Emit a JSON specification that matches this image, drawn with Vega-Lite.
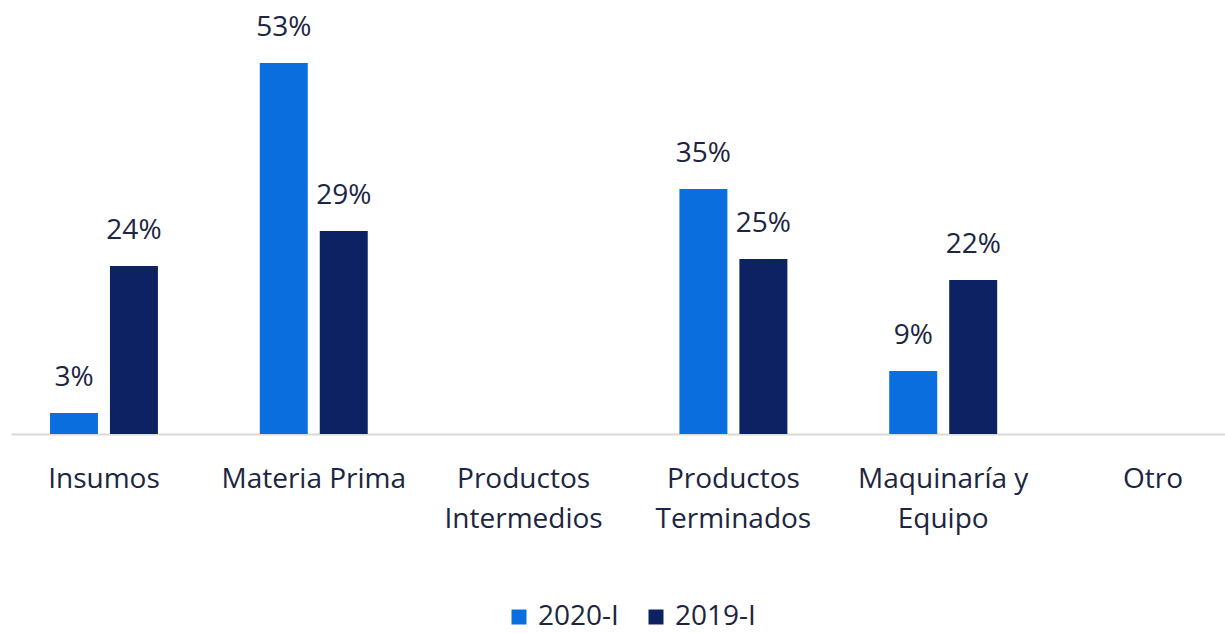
{
  "$schema": "https://vega.github.io/schema/vega-lite/v6.json",
  "width": 1214,
  "height": 434,
  "autosize": {"type": "none"},
  "padding": {"left": 11, "top": 0, "right": 0, "bottom": 199},
  "background": "white",
  "config": {
    "view": {"stroke": null},
    "font": "Open Sans"
  },
  "data": {
    "values": [
      {"categoria": "Insumos", "periodo": "2020-I", "valor": 0.03},
      {"categoria": "Insumos", "periodo": "2019-I", "valor": 0.24},
      {"categoria": "Materia Prima", "periodo": "2020-I", "valor": 0.53},
      {"categoria": "Materia Prima", "periodo": "2019-I", "valor": 0.29},
      {"categoria": "Productos Terminados", "periodo": "2020-I", "valor": 0.35},
      {"categoria": "Productos Terminados", "periodo": "2019-I", "valor": 0.25},
      {"categoria": "Maquinaría y Equipo", "periodo": "2020-I", "valor": 0.09},
      {"categoria": "Maquinaría y Equipo", "periodo": "2019-I", "valor": 0.22}
    ]
  },
  "encoding": {
    "x": {
      "field": "categoria",
      "type": "nominal",
      "scale": {
        "domain": ["Insumos", "Materia Prima", "Productos Intermedios", "Productos Terminados", "Maquinaría y Equipo", "Otro"],
        "paddingInner": 0.414,
        "paddingOuter": 0.1,
        "align": 0.75
      },
      "axis": {
        "title": null,
        "ticks": false,
        "labelAngle": 0,
        "labelPadding": 31,
        "labelFontSize": 28,
        "labelColor": "#1c2541",
        "labelLineHeight": 40,
        "labelExpr": "datum.label == 'Productos Intermedios' ? ['Productos', 'Intermedios'] : datum.label == 'Productos Terminados' ? ['Productos', 'Terminados'] : datum.label == 'Maquinaría y Equipo' ? ['Maquinaría y', 'Equipo'] : datum.label",
        "domainColor": "#d9d9d9",
        "domainWidth": 2,
        "labelLimit": 400
      }
    },
    "xOffset": {
      "field": "periodo",
      "type": "nominal",
      "scale": {"domain": ["2020-I", "2019-I"], "paddingInner": 0.2, "paddingOuter": 0.125}
    },
    "y": {
      "field": "valor",
      "type": "quantitative",
      "scale": {"domain": [0, 0.62], "nice": false},
      "axis": null
    }
  },
  "layer": [
    {
      "mark": {"type": "bar"},
      "encoding": {
        "color": {
          "field": "periodo",
          "type": "nominal",
          "scale": {"domain": ["2020-I", "2019-I"], "range": ["#0a6ede", "#0c2263"]},
          "legend": {
            "title": null,
            "orient": "none",
            "direction": "horizontal",
            "legendX": 494,
            "legendY": 603,
            "symbolType": "square",
            "symbolSize": 225,
            "symbolStrokeWidth": 0,
            "labelFontSize": 28,
            "labelColor": "#1c2541",
            "columnPadding": 23,
            "labelOffset": 5
          }
        }
      }
    },
    {
      "mark": {"type": "text", "baseline": "bottom", "dy": -21, "fontSize": 28, "color": "#1c2541"},
      "encoding": {
        "text": {"field": "valor", "type": "quantitative", "format": ".0%"}
      }
    }
  ]
}
